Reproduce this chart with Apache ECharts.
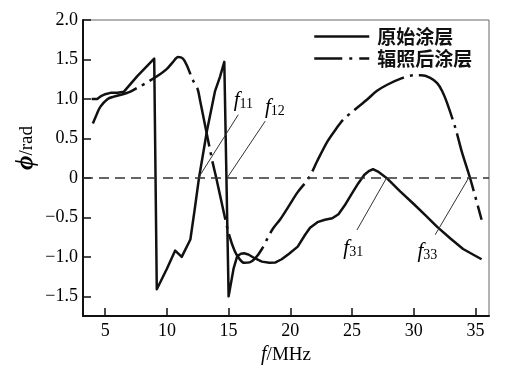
<!DOCTYPE html>
<html>
<head>
<meta charset="utf-8">
<script src="https://cdn.jsdelivr.net/npm/echarts@6/dist/echarts.min.js"></script>
<style>html,body{margin:0;padding:0;background:#fff}#c{width:510px;height:370px}</style>
</head>
<body>
<div id="c"></div>
<script>
// ---- data ----
var seriesNames = ['原始涂层', '辐照后涂层'];
var xTickValues = [5, 10, 15, 20, 25, 30, 35];
var yTickValues = [-1.5, -1.0, -0.5, 0, 0.5, 1.0, 1.5, 2.0];
var yTickLabels = ['\u22121.5', '\u22121.0', '\u22120.5', '0', '0.5', '1.0', '1.5', '2.0'];

var origX = [3.9, 4.35, 4.7, 5.0, 5.5, 6.0, 6.5, 7.6, 8.97, 9.18, 10.0, 10.67, 11.2, 11.9, 12.25, 12.6, 13.25, 13.9, 14.3, 14.65, 15.0, 15.4, 15.7, 16.0, 16.25, 16.6, 17.15, 17.7, 18.3, 18.8, 19.3, 19.9, 20.6, 21.2, 21.6, 22.2, 22.8, 23.4, 23.9, 24.4, 24.9, 25.5, 26.0, 26.4, 26.7, 27.1, 27.8, 28.9, 30.0, 31.0, 31.9, 33.0, 34.0, 34.8, 35.5];
var origY = [1.0, 1.0, 1.04, 1.06, 1.08, 1.08, 1.09, 1.29, 1.51, -1.41, -1.15, -0.92, -1.0, -0.78, -0.4, 0.0, 0.6, 1.1, 1.28, 1.47, -1.5, -1.15, -0.99, -0.96, -0.955, -0.97, -1.02, -1.06, -1.075, -1.07, -1.03, -0.96, -0.87, -0.72, -0.63, -0.56, -0.53, -0.51, -0.46, -0.35, -0.22, -0.07, 0.04, 0.09, 0.11, 0.08, 0.0, -0.17, -0.33, -0.48, -0.62, -0.77, -0.9, -0.97, -1.03];

var irrX = [4.0, 4.3, 4.6, 5.2, 5.7, 6.2, 7.0, 7.7, 8.4, 9.5, 10.0, 10.5, 10.9, 11.3, 11.6, 12.1, 12.5, 12.7, 13.1, 13.7, 14.0, 14.5, 15.0, 15.5, 15.9, 16.25, 16.7, 17.15, 17.7, 18.2, 18.6, 19.2, 19.9, 20.6, 21.5, 22.2, 23.0, 23.7, 24.3, 25.2, 26.2, 27.0, 27.85, 29.0, 30.0, 30.6, 31.3, 31.9, 32.3, 32.7, 33.4, 33.9, 34.6, 35.5];
var irrY = [0.69, 0.8, 0.9, 1.0, 1.03, 1.05, 1.09, 1.15, 1.21, 1.32, 1.38, 1.47, 1.53, 1.51, 1.43, 1.24, 1.12, 0.97, 0.66, 0.2, 0.0, -0.36, -0.7, -0.93, -1.03, -1.075, -1.07, -1.02, -0.9, -0.75, -0.64, -0.52, -0.35, -0.18, 0.0, 0.22, 0.46, 0.62, 0.74, 0.86, 0.99, 1.1, 1.18, 1.26, 1.30, 1.30, 1.27, 1.2, 1.1, 0.95, 0.62, 0.33, -0.02, -0.53];

// annotation labels and leader lines (data coords)
var annoNames = ['11', '12', '31', '33'];
var annoLabelX = [16.2, 18.75, 25.1, 31.1];
var annoLabelY = [0.99, 0.9, -0.88, -0.92];
var leaderFromX = [15.78, 17.97, 25.4, 31.74];
var leaderFromY = [0.80, 0.72, -0.66, -0.72];
var leaderToX = [12.55, 14.88, 27.8, 34.45];
var leaderToY = [0, 0, 0, 0];

function zip(a, b) { return a.map(function (v, i) { return [v, b[i]]; }); }

var serif = '"Liberation Serif","DejaVu Serif",serif';
var cjk = '"Noto Sans CJK SC","Noto Sans",sans-serif';

var chart = echarts.init(document.getElementById('c'), null, { renderer: 'canvas' });

var dashDot = [60, 6, 3, 6];

var option = {
  animation: false,
  backgroundColor: '#fff',
  grid: { left: 83, right: 21, top: 20, bottom: 48, show: true, borderColor: '#666', borderWidth: 1, backgroundColor: 'transparent' },
  legend: {
    orient: 'vertical',
    left: 313, top: 27, padding: 0,
    itemWidth: 55, itemHeight: 14, itemGap: 3, itemStyle: { opacity: 0 },
    textStyle: { fontFamily: cjk, fontSize: 19, fontWeight: 'bold', color: '#111', padding: [0, 0, 0, 3] },
    data: [
      { name: seriesNames[0], lineStyle: { type: 'solid', width: 2.5, color: '#111' } },
      { name: seriesNames[1], lineStyle: { type: [28, 7, 3, 7], width: 2.5, color: '#111' } }
    ]
  },
  xAxis: {
    type: 'value', min: 3.2, max: 36.1,
    name: '{i|f}{n|/MHz}', nameLocation: 'middle', nameGap: 25,
    nameTextStyle: { rich: { i: { fontFamily: serif, fontStyle: 'italic', fontSize: 20, color: '#000' }, n: { fontFamily: serif, fontSize: 19, color: '#000' } } },
    axisLine: { show: true, onZero: false, lineStyle: { color: '#111', width: 2 } },
    axisTick: { show: true, inside: true, length: 8, customValues: xTickValues, lineStyle: { color: '#111', width: 1.5 } },
    axisLabel: { customValues: xTickValues, fontFamily: serif, fontSize: 18, color: '#000', margin: 6 },
    splitLine: { show: false }
  },
  yAxis: {
    type: 'value', min: -1.75, max: 2.0,
    axisLine: { show: true, onZero: false, lineStyle: { color: '#111', width: 2 } },
    axisTick: { show: true, inside: true, length: 8, customValues: yTickValues, lineStyle: { color: '#111', width: 1.5 } },
    axisLabel: {
      customValues: yTickValues, fontFamily: serif, fontSize: 18, color: '#000', margin: 5,
      formatter: function (v) { var i = yTickValues.indexOf(v); return i >= 0 ? yTickLabels[i] : ''; }
    },
    splitLine: { show: false }
  },
  graphic: [{
    type: 'text', x: 27, y: 148, rotation: Math.PI / 2,
    style: {
      text: '{p|\u03d5}{n|/rad}', align: 'center', verticalAlign: 'middle',
      rich: { p: { fontFamily: serif, fontSize: 25, fontWeight: 'bold', fontStyle: 'italic', fill: '#000' }, n: { fontFamily: serif, fontSize: 19, fill: '#000' } }
    }
  }],
  series: [
    {
      name: seriesNames[0], type: 'line', symbol: 'none', smooth: false,
      lineStyle: { color: '#111', width: 2.5, join: 'round' },
      data: zip(origX, origY),
      markLine: {
        silent: true, symbol: 'none', animation: false,
        label: { show: false },
        lineStyle: { color: '#333', width: 1.5, type: [10, 6] },
        data: [{ yAxis: 0 }]
      },
      markPoint: {
        silent: true, symbol: 'circle', symbolSize: 0,
        label: {
          show: true, position: 'inside',
          formatter: function (p) { return '{f|f}{s|' + p.name + '}'; },
          rich: {
            f: { fontFamily: serif, fontStyle: 'italic', fontSize: 21, color: '#000', verticalAlign: 'bottom' },
            s: { fontFamily: serif, fontSize: 14, color: '#000', verticalAlign: 'bottom', padding: [9, 0, 0, 0] }
          }
        },
        data: annoNames.map(function (n, i) { return { name: n, coord: [annoLabelX[i], annoLabelY[i]] }; })
      }
    },
    {
      name: seriesNames[1], type: 'line', symbol: 'none', smooth: 0.3,
      lineStyle: { color: '#111', width: 2.5, type: dashDot, join: 'round' },
      data: zip(irrX, irrY),
      markLine: {
        silent: true, symbol: 'none', animation: false,
        label: { show: false },
        lineStyle: { color: '#333', width: 1, type: 'solid' },
        data: annoNames.map(function (n, i) {
          return [{ coord: [leaderFromX[i], leaderFromY[i]] }, { coord: [leaderToX[i], leaderToY[i]] }];
        })
      }
    }
  ]
};
chart.setOption(option);
</script>
</body>
</html>
